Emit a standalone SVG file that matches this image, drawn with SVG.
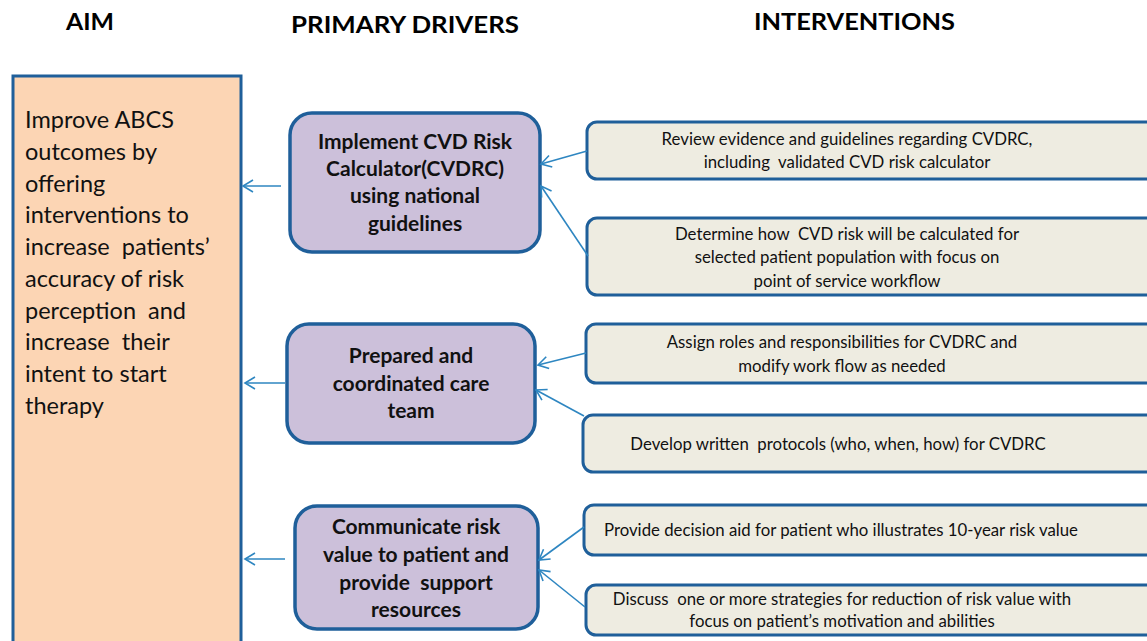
<svg xmlns="http://www.w3.org/2000/svg" width="1147" height="641" viewBox="0 0 1147 641">
  <defs>
    <style>
      .hdr { font-family: Lato, "Liberation Sans", sans-serif; font-weight: 700; font-size: 23px; fill: #000; }
      .aim { fill: #fcd5b4; stroke: #1f5f9a; stroke-width: 3; }
      .aimtxt { font-family: Lato, "Liberation Sans", sans-serif; font-size: 23.5px; fill: #111; }
      .drv { fill: #ccc0da; stroke: #1f5f9a; stroke-width: 3.5; }
      .drvtxt { font-family: Lato, "Liberation Sans", sans-serif; font-weight: 700; font-size: 21px; fill: #111; text-anchor: middle; }
      .int { fill: #eeece1; stroke: #1f5f9a; stroke-width: 3; }
      .inttxt { font-family: Lato, "Liberation Sans", sans-serif; font-size: 16.8px; fill: #111; text-anchor: middle; }
      .conn { stroke: #2e86c1; stroke-width: 1.6; fill: none; marker-end: url(#chev); }
    </style>
    <marker id="chev" markerUnits="userSpaceOnUse" markerWidth="14" markerHeight="16" refX="11" refY="7" orient="auto" viewBox="0 0 14 14">
      <path d="M1,1 L11,7 L1,13" fill="none" stroke="#2e86c1" stroke-width="1.6"/>
    </marker>
  </defs>

  <rect width="1147" height="641" fill="#ffffff"/>

  <!-- column headings -->
  <g id="headings">
    <text class="hdr" x="66" y="30" textLength="48" lengthAdjust="spacingAndGlyphs">AIM</text>
    <text class="hdr" x="291" y="33" textLength="228" lengthAdjust="spacingAndGlyphs">PRIMARY DRIVERS</text>
    <text class="hdr" x="754" y="30" textLength="201" lengthAdjust="spacingAndGlyphs">INTERVENTIONS</text>
  </g>

  <!-- aim -->
  <g id="aim">
    <rect class="aim" x="13" y="76" width="228" height="575"/>
    <text class="aimtxt" x="25" y="128">Improve ABCS</text>
    <text class="aimtxt" x="25" y="160">outcomes by</text>
    <text class="aimtxt" x="25" y="192">offering</text>
    <text class="aimtxt" x="25" y="223">interventions to</text>
    <text class="aimtxt" x="25" y="255" xml:space="preserve">increase  patients’</text>
    <text class="aimtxt" x="25" y="287">accuracy of risk</text>
    <text class="aimtxt" x="25" y="319" xml:space="preserve">perception  and</text>
    <text class="aimtxt" x="25" y="350" xml:space="preserve">increase  their</text>
    <text class="aimtxt" x="25" y="382">intent to start</text>
    <text class="aimtxt" x="25" y="414">therapy</text>
  </g>

  <!-- primary drivers -->
  <g id="driver-cvdrc">
    <rect class="drv" x="290" y="113" width="250" height="139" rx="22"/>
    <text class="drvtxt" x="415" y="149">Implement CVD Risk</text>
    <text class="drvtxt" x="415" y="176">Calculator(CVDRC)</text>
    <text class="drvtxt" x="415" y="203">using national</text>
    <text class="drvtxt" x="415" y="231">guidelines</text>
  </g>
  <g id="driver-team">
    <rect class="drv" x="287" y="324" width="248" height="119" rx="22"/>
    <text class="drvtxt" x="411" y="363">Prepared and</text>
    <text class="drvtxt" x="411" y="391">coordinated care</text>
    <text class="drvtxt" x="411" y="418">team</text>
  </g>
  <g id="driver-communicate">
    <rect class="drv" x="295" y="506" width="243" height="123" rx="22"/>
    <text class="drvtxt" x="416" y="534">Communicate risk</text>
    <text class="drvtxt" x="416" y="562">value to patient and</text>
    <text class="drvtxt" x="416" y="590" xml:space="preserve">provide  support</text>
    <text class="drvtxt" x="416" y="617">resources</text>
  </g>

  <!-- interventions -->
  <g id="int-review">
    <rect class="int" x="587" y="122" width="575" height="57" rx="10"/>
    <text class="inttxt" x="847" y="145">Review evidence and guidelines regarding CVDRC,</text>
    <text class="inttxt" x="847" y="168" xml:space="preserve">including  validated CVD risk calculator</text>
  </g>
  <g id="int-determine">
    <rect class="int" x="587" y="218" width="575" height="77" rx="10"/>
    <text class="inttxt" x="847" y="240" xml:space="preserve">Determine how  CVD risk will be calculated for</text>
    <text class="inttxt" x="847" y="263">selected patient population with focus on</text>
    <text class="inttxt" x="847" y="287">point of service workflow</text>
  </g>
  <g id="int-assign">
    <rect class="int" x="586" y="324" width="575" height="59" rx="10"/>
    <text class="inttxt" x="842" y="348">Assign roles and responsibilities for CVDRC and</text>
    <text class="inttxt" x="842" y="372">modify work flow as needed</text>
  </g>
  <g id="int-protocols">
    <rect class="int" x="583" y="415" width="575" height="57" rx="10"/>
    <text class="inttxt" x="838" y="450" xml:space="preserve">Develop written  protocols (who, when, how) for CVDRC</text>
  </g>
  <g id="int-decision-aid">
    <rect class="int" x="584" y="505" width="575" height="50" rx="10"/>
    <text class="inttxt" x="841" y="536">Provide decision aid for patient who illustrates 10-year risk value</text>
  </g>
  <g id="int-discuss">
    <rect class="int" x="586" y="585" width="575" height="50" rx="10"/>
    <text class="inttxt" x="842" y="605" xml:space="preserve">Discuss  one or more strategies for reduction of risk value with</text>
    <text class="inttxt" x="842" y="627">focus on patient’s motivation and abilities</text>
  </g>

  <!-- connectors -->
  <g id="connectors">
    <line class="conn" x1="587" y1="151" x2="541" y2="164"/>
    <line class="conn" x1="588" y1="256" x2="541" y2="186"/>
    <line class="conn" x1="586" y1="353" x2="538" y2="365"/>
    <line class="conn" x1="584" y1="416" x2="536" y2="390"/>
    <line class="conn" x1="584" y1="527" x2="539" y2="560"/>
    <line class="conn" x1="585" y1="607" x2="539" y2="570"/>
    <line class="conn" x1="281" y1="186" x2="243" y2="186"/>
    <line class="conn" x1="285" y1="383" x2="245" y2="383"/>
    <line class="conn" x1="285" y1="559" x2="245" y2="559"/>
  </g>
</svg>
